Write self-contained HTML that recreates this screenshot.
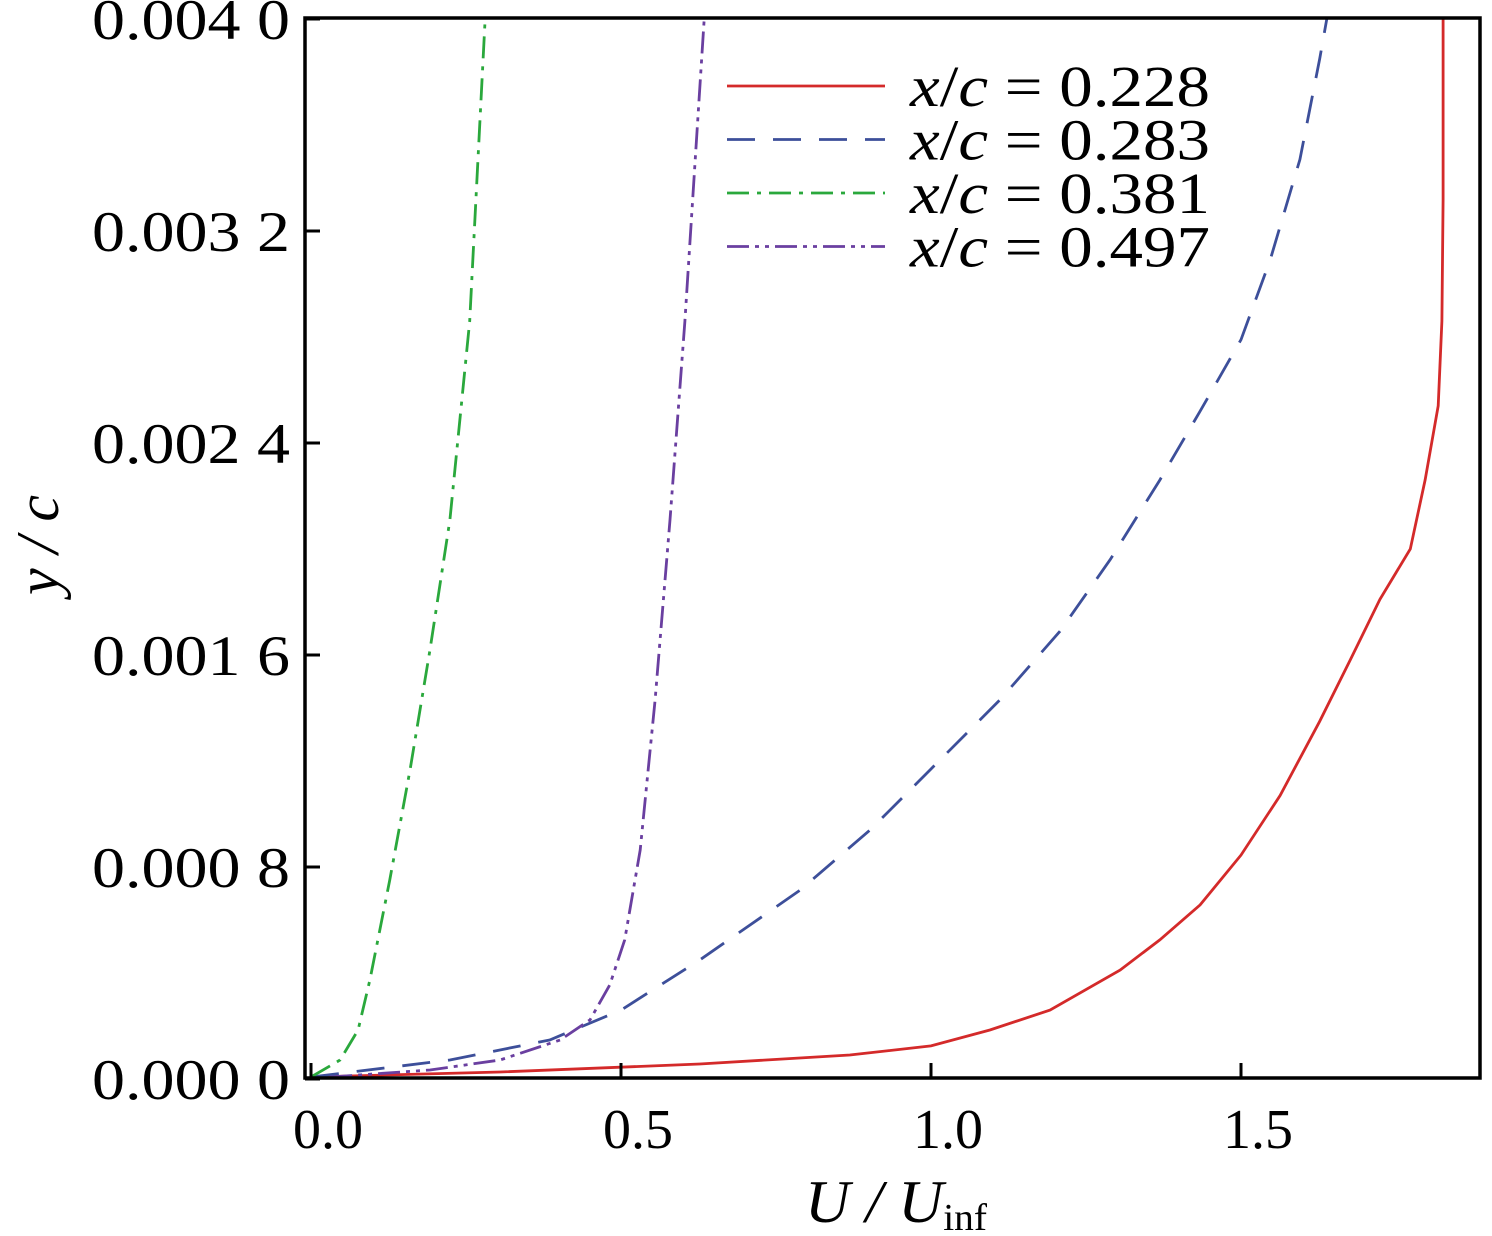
<!DOCTYPE html>
<html><head><meta charset="utf-8"><style>
html,body{margin:0;padding:0;background:#fff;}
svg{display:block;font-family:"Liberation Serif",serif;}
</style></head><body>
<svg id="chart" width="1492" height="1236" viewBox="0 0 1492 1236">
<defs><clipPath id="pc"><rect x="305" y="18" width="1175" height="1060"/></clipPath></defs>
<g id="plot" clip-path="url(#pc)"></g>
<rect x="305" y="18" width="1175" height="1060" fill="none" stroke="#000" stroke-width="3.5"/>
<g id="axes"></g>
<text x="805" y="1222" font-size="60" font-style="italic" textLength="182" lengthAdjust="spacingAndGlyphs">U / U<tspan font-style="normal" font-size="38" dy="8">inf</tspan></text>
<text transform="translate(58,545) rotate(-90)" font-size="60" font-style="italic" text-anchor="middle">y / c</text>
<g id="legend"></g>
</svg>
<script>
const xTicks=[0,0.5,1.0,1.5];
const xTickLabels=["0.0","0.5","1.0","1.5"];
const yTicks=[0,0.0008,0.0016,0.0024,0.0032,0.004];
const yTickLabels=["0.000 0","0.000 8","0.001 6","0.002 4","0.003 2","0.004 0"];
const seriesNames=["x/c = 0.228","x/c = 0.283","x/c = 0.381","x/c = 0.497"];
const u228=[0,0.305,0.627,0.869,1.0,1.095,1.192,1.305,1.369,1.434,1.5,1.563,1.627,1.676,1.724,1.773,1.797,1.818,1.824,1.826,1.826];
const y228=[0.0000075,0.0000264,0.0000566,0.0000906,0.000125,0.000185,0.00026,0.000411,0.000525,0.000657,0.000845,0.00107,0.00135,0.00158,0.00181,0.002,0.00226,0.00254,0.00286,0.00332,0.0041];
const u283=[0,0.224,0.385,0.5,0.627,0.789,0.902,1.0,1.111,1.208,1.289,1.369,1.434,1.5,1.547,1.595,1.627,1.646];
const y283=[0.0000075,0.0000717,0.000147,0.00026,0.000449,0.000713,0.00094,0.00117,0.00143,0.00169,0.00196,0.00226,0.00252,0.00279,0.00309,0.00347,0.00385,0.0041];
const u381=[0,0.047,0.076,0.095,0.127,0.16,0.192,0.224,0.256,0.283];
const y381=[0.0000075,0.0000717,0.000185,0.000374,0.00075,0.00117,0.00162,0.00211,0.00286,0.0041];
const u497=[0.031,0.192,0.305,0.402,0.45,0.482,0.506,0.531,0.555,0.579,0.603,0.637];
const y497=[0.0000075,0.000034,0.0000717,0.000147,0.000223,0.000355,0.000525,0.000864,0.00143,0.00211,0.00286,0.0041];

const NS="http://www.w3.org/2000/svg";
const X=u=>311+u*620;
const Y=v=>1079-v/0.0008*212;
const plot=document.getElementById('plot'),axes=document.getElementById('axes'),legend=document.getElementById('legend');
function mk(tag,attrs,parent){const e=document.createElementNS(NS,tag);for(const k in attrs)e.setAttribute(k,attrs[k]);parent.appendChild(e);return e;}
xTicks.forEach((t,i)=>{
  const l=mk('line',{x1:X(t),x2:X(t),y1:1078,y2:1063,stroke:'#000','stroke-width':3},axes);
  
  
  const tx=mk('text',{x:X(t)+17,y:1148,'font-size':56,'text-anchor':'middle'},axes);tx.textContent=xTickLabels[i];
  
  
});
yTicks.forEach((t,i)=>{
  const l=mk('line',{x1:305,x2:320,y1:Y(t),y2:Y(t),stroke:'#000','stroke-width':3},axes);
  
  
  const tx=mk('text',{x:92,y:Y(t)+20,'font-size':57,textLength:198,lengthAdjust:'spacingAndGlyphs'},axes);tx.textContent=yTickLabels[i];
  
  
});
const series=[[u228,y228,'#d42a2a','none'],[u283,y283,'#3d4f9a','28,18'],[u381,y381,'#2aa83c','22,8,4,8'],[u497,y497,'#6a3fa0','22,6,4,6,4,6']];
series.forEach((s,i)=>{
  const d=s[0].map((u,j)=>(j?'L':'M')+X(u).toFixed(1)+','+Y(s[1][j]).toFixed(1)).join(' ');
  const p=mk('path',{d:d,fill:'none',stroke:s[2],'stroke-width':2.8,'stroke-dasharray':s[3]},plot);
  
  
  const ly=86+i*53.5;
  const ll=mk('line',{x1:727,x2:885,y1:ly,y2:ly,stroke:s[2],'stroke-width':2.8,'stroke-dasharray':s[3]},legend);
  
  
  const lt=mk('text',{x:910,y:ly+20,'font-size':58,textLength:300,lengthAdjust:'spacingAndGlyphs'},legend);
  lt.innerHTML='<tspan font-style="italic">x</tspan>/<tspan font-style="italic">c</tspan>'+seriesNames[i].slice(3);
  
  
});
</script>
</body></html>
